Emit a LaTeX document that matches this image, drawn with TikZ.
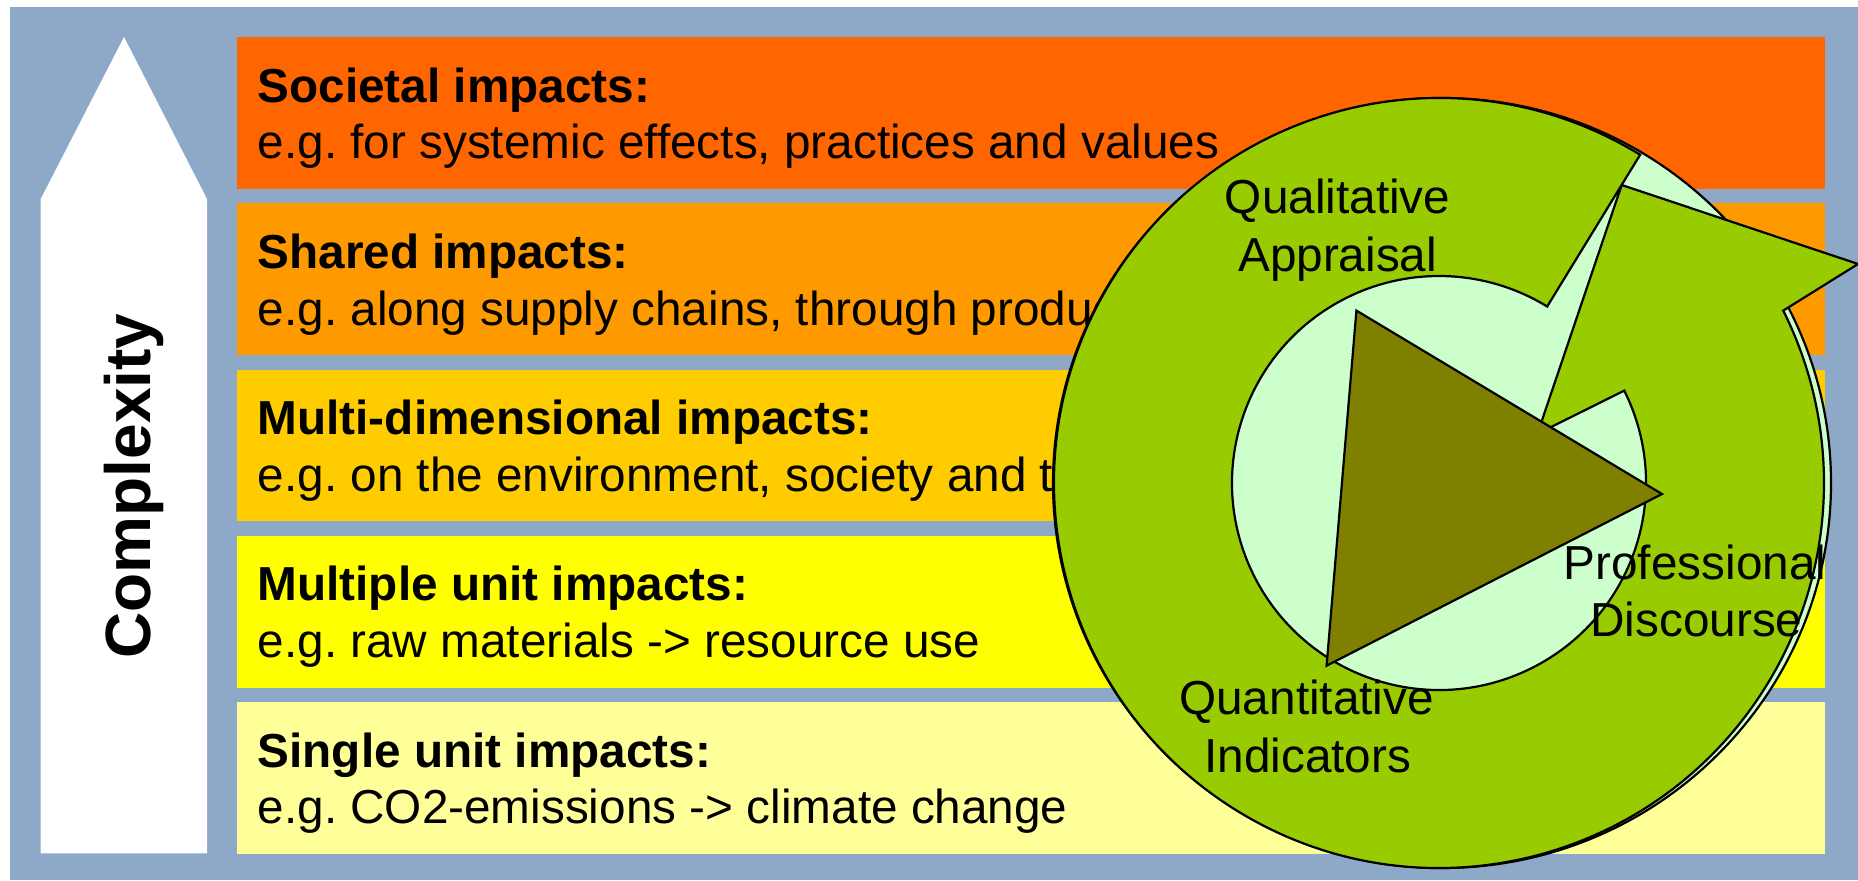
\documentclass[tikz,border=0pt]{standalone}
\usepackage{fontspec}
\setmainfont{Liberation Sans}
\usetikzlibrary{calc}
\frenchspacing
\definecolor{frameblue}{RGB}{142,168,199}
\definecolor{bandA}{HTML}{FF6600}
\definecolor{bandB}{HTML}{FF9900}
\definecolor{bandC}{HTML}{FFCC00}
\definecolor{bandD}{HTML}{FFFF00}
\definecolor{bandE}{HTML}{FFFF99}
\definecolor{ringgreen}{HTML}{99CC00}
\definecolor{palegreen}{HTML}{CCFFCC}
\definecolor{darkolive}{HTML}{808000}
\begin{document}
\begin{tikzpicture}[x=0.5pt,y=0.5pt,
  bandtitle/.style={anchor=base west, inner sep=0pt, font=\fontsize{23.85}{28}\selectfont\bfseries},
  banddesc/.style={anchor=base west, inner sep=0pt, font=\fontsize{23.85}{28}\selectfont},
  cyclelabel/.style={anchor=base, inner sep=0pt, font=\fontsize{23.85}{28}\selectfont},
  shapeline/.style={draw=black, line width=1.1pt, line join=miter}]
\useasboundingbox (0,0) rectangle (1858,880);

% frame
\fill[white] (0,0) rectangle (1858,880);
\fill[frameblue] (10,0) rectangle (1858,873);

% complexity arrow
\fill[white] (40.7,26.7) -- (207,26.7) -- (207,681) -- (124,843) -- (40.7,681) -- cycle;
\node[rotate=90, anchor=base, inner sep=0pt, font=\fontsize{32}{38}\selectfont\bfseries]
  (complexity) at (150,394) {Complexity};

% impact bands
\foreach \t/\col/\ttl/\dsc [count=\i] in {
  37.3/bandA/{Societal impacts:}/{e.g. for systemic effects, practices and values},
  203.5/bandB/{Shared impacts:}/{e.g. along supply chains, through product life cycles},
  369.7/bandC/{Multi-dimensional impacts:}/{e.g. on the environment, society and the economy},
  535.9/bandD/{Multiple unit impacts:}/{e.g. raw materials -> resource use},
  702.1/bandE/{Single unit impacts:}/{e.g. CO2-emissions -> climate change}} {
  \fill[\col] (237,{880-\t}) rectangle (1825,{880-\t-151.7});
  \node[bandtitle] (title\i) at (257.3,{880-\t-65}) {\ttl};
  \node[banddesc] (desc\i) at (257.3,{880-\t-121.7}) {\dsc};
}

% cycle: pale disk, green circular arrow, central triangle
\coordinate (O) at (1439,397);
\draw[shapeline, fill=palegreen] (1442,397) ellipse [x radius=389, y radius=385];
\draw[shapeline, fill=ringgreen]
  ($(O)+(58.5:385)$) arc[start angle=58.5, end angle=386.6, radius=385]
  -- (1858,616) -- (1621.7,695) -- (1537.4,446.2)
  -- ($(O)+(26.5:207)$) arc[start angle=26.5, end angle=-301.5, radius=207]
  -- cycle;
\draw[shapeline, fill=darkolive] (1356.4,569.4) -- (1662,386) -- (1326.6,214.3) -- cycle;

% cycle labels
\node[cyclelabel] (qual1) at (1337.6,666.3) {Qualitative};
\node[cyclelabel] (qual2) at (1337.6,608.7) {Appraisal};
\node[cyclelabel] (prof1) at (1695,301) {Professional};
\node[cyclelabel] (prof2) at (1696.4,244) {Discourse};
\node[cyclelabel] (quan1) at (1306.6,165.8) {Quantitative};
\node[cyclelabel] (quan2) at (1307.7,108) {Indicators};
\end{tikzpicture}
\end{document}
